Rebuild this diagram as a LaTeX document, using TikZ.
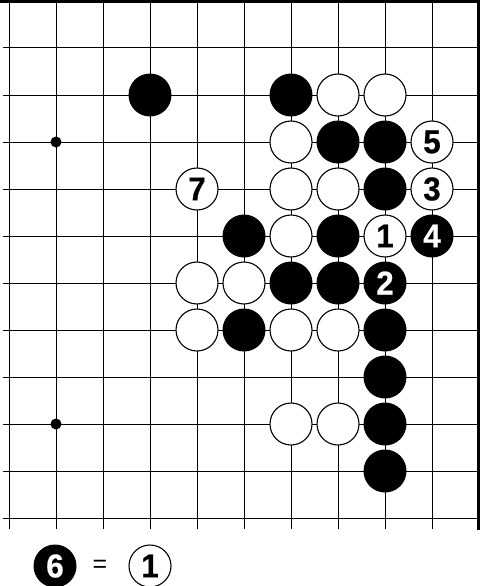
\documentclass[tikz,border=0pt]{standalone}
\usepackage{fontspec}
\usepackage{graphicx}
\setmainfont{Liberation Sans}
\newfontfamily\numfam{Liberation Sans}[BoldFont={Liberation Sans Bold}, BoldFeatures={FakeBold=0.6}]
\newcommand\numfont{\numfam\fontsize{33}{33}\selectfont\bfseries}
\newcommand\num[1]{\scalebox{0.95}[1]{#1}}
\tikzset{
  gridline/.style={line width=1pt, black},
  edgeline/.style={line width=3pt, black},
  bstone/.style={circle, fill=black, minimum size=43pt, inner sep=0pt, text=white, font=\numfont},
  wstone/.style={circle, draw=black, line width=1.1pt, fill=white, minimum size=42pt, inner sep=0pt, text=black, font=\numfont},
  hoshi/.style={circle, fill=black, minimum size=11pt, inner sep=0pt},
}
\newcommand\stone[4]{\node[#1] (s#2-#3) at ({9+47*#2},{48+47*#3}) {#4};}
\begin{document}
\begin{tikzpicture}[x=1pt,y=-1pt]
\useasboundingbox (0,0) rectangle (480,586);
\fill[white] (0,0) rectangle (480,586);
% grid
\foreach \i in {0,...,9} \draw[gridline] ({9+47*\i},1) -- ({9+47*\i},529);
\foreach \j in {0,...,10} \draw[gridline] (3,{48+47*\j}) -- (479,{48+47*\j});
\draw[edgeline] (0,1.5) -- (480,1.5);
\draw[edgeline] (478.5,0) -- (478.5,530);
% star points
\node[hoshi] (h1) at (56,142) {};
\node[hoshi] (h2) at (56,424) {};
% row 1
\stone{bstone}{3}{1}{}
\stone{bstone}{6}{1}{}
\stone{wstone}{7}{1}{}
\stone{wstone}{8}{1}{}
% row 2
\stone{wstone}{6}{2}{}
\stone{bstone}{7}{2}{}
\stone{bstone}{8}{2}{}
\stone{wstone}{9}{2}{\num{5}}
% row 3
\stone{wstone}{4}{3}{\num{7}}
\stone{wstone}{6}{3}{}
\stone{wstone}{7}{3}{}
\stone{bstone}{8}{3}{}
\stone{wstone}{9}{3}{\num{3}}
% row 4
\stone{bstone}{5}{4}{}
\stone{wstone}{6}{4}{}
\stone{bstone}{7}{4}{}
\stone{wstone}{8}{4}{\num{1}}
\stone{bstone}{9}{4}{\num{4}}
% row 5
\stone{wstone}{4}{5}{}
\stone{wstone}{5}{5}{}
\stone{bstone}{6}{5}{}
\stone{bstone}{7}{5}{}
\stone{bstone}{8}{5}{\num{2}}
% row 6
\stone{wstone}{4}{6}{}
\stone{bstone}{5}{6}{}
\stone{wstone}{6}{6}{}
\stone{wstone}{7}{6}{}
\stone{bstone}{8}{6}{}
% row 7
\stone{bstone}{8}{7}{}
% row 8
\stone{wstone}{6}{8}{}
\stone{wstone}{7}{8}{}
\stone{bstone}{8}{8}{}
% row 9
\stone{bstone}{8}{9}{}
% legend
\node[bstone] (leg6) at (55,566) {\num{6}};
\node[font=\fontsize{25}{25}\selectfont] (eq) at (100,566) {=};
\node[wstone] (leg1) at (150,566) {\num{1}};
\end{tikzpicture}
\end{document}
